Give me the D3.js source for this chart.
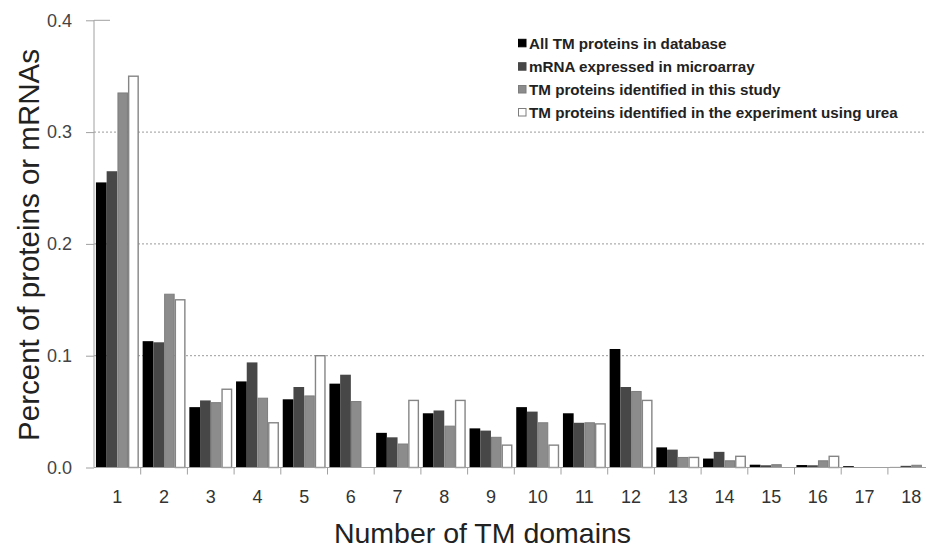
<!DOCTYPE html>
<html>
<head>
<meta charset="utf-8">
<script src="https://cdn.jsdelivr.net/npm/d3@7"></script>
<style>
  html, body { margin: 0; padding: 0; background: #fff; }
  svg { display: block; font-family: "Liberation Sans", Arial, sans-serif; }
</style>
</head>
<body>
<svg id="chart" width="926" height="549"></svg>
<script>
// Number of transmembrane domains per protein
const categories = ["1","2","3","4","5","6","7","8","9","10","11","12","13","14","15","16","17","18"];

// Fractions of proteins / mRNAs in each TM-domain class
const allTMDatabase = [0.255, 0.113, 0.054, 0.077, 0.061, 0.075, 0.031, 0.0485, 0.035, 0.054, 0.0485, 0.106, 0.018, 0.008, 0.0025, 0.0022, 0.0012, 0.0005];
const mRNAMicroarray = [0.265, 0.112, 0.060, 0.094, 0.072, 0.083, 0.027, 0.051, 0.033, 0.050, 0.040, 0.072, 0.016, 0.014, 0.002, 0.002, 0, 0.0015];
const tmThisStudy = [0.335, 0.155, 0.058, 0.062, 0.064, 0.059, 0.021, 0.037, 0.027, 0.040, 0.040, 0.068, 0.009, 0.006, 0.0025, 0.006, 0, 0.002];
const tmUreaExperiment = [0.350, 0.150, 0.070, 0.040, 0.100, 0, 0.060, 0.060, 0.020, 0.020, 0.039, 0.060, 0.009, 0.010, 0, 0.010, 0, 0];

const seriesNames = [
  "All TM proteins in database",
  "mRNA expressed in microarray",
  "TM proteins identified in this study",
  "TM proteins identified in the experiment using urea"
];
const yTicks = [0, 0.1, 0.2, 0.3, 0.4];

const seriesValues = [allTMDatabase, mRNAMicroarray, tmThisStudy, tmUreaExperiment];
const fills = ["#000000", "#474747", "#8c8c8c", "#ffffff"];
const strokes = [null, null, "#7d7d7d", "#858585"];

const svg = d3.select("#chart");
const W = 926, H = 549;
const plot = { left: 94, right: 934.6, top: 20.3, bottom: 467.5 };

const x = d3.scaleBand()
  .domain(categories)
  .range([plot.left, plot.right])
  .paddingInner(0.083)
  .paddingOuter(0.0415);

const x1 = d3.scaleBand()
  .domain(d3.range(seriesNames.length))
  .range([0, x.bandwidth()])
  .padding(0);

const y = d3.scaleLinear().domain([0, 0.4]).range([plot.bottom, plot.top]);

// Dotted horizontal gridlines
svg.append("g")
  .selectAll("line")
  .data(yTicks.filter(t => t > 0 && t < 0.4))
  .join("line")
  .attr("x1", plot.left)
  .attr("x2", W)
  .attr("y1", d => y(d))
  .attr("y2", d => y(d))
  .attr("stroke", "#9a9a9a")
  .attr("stroke-width", 1)
  .attr("stroke-dasharray", "2,2");

// Bars
const groups = svg.append("g")
  .selectAll("g")
  .data(categories)
  .join("g")
  .attr("transform", d => `translate(${x(d)},0)`);

groups.selectAll("rect")
  .data((c, i) => seriesValues.map((vals, s) => ({ s, v: vals[i] })).filter(d => d.v > 0))
  .join("rect")
  .attr("x", d => x1(d.s) + (strokes[d.s] ? 0.6 : 0))
  .attr("width", d => x1.bandwidth() - (strokes[d.s] ? 1.2 : 0))
  .attr("y", d => y(d.v))
  .attr("height", d => y(0) - y(d.v))
  .attr("fill", d => fills[d.s])
  .attr("stroke", d => strokes[d.s] || "none")
  .attr("stroke-width", d => d.s === 3 ? 1.4 : 1);

// Y axis
const yAxis = svg.append("g")
  .attr("transform", `translate(${plot.left},0)`)
  .call(d3.axisLeft(y).tickValues(yTicks).tickFormat(d3.format(".1f")).tickSize(8).tickPadding(14));
yAxis.select(".domain").attr("stroke", "#a0a0a0").attr("d", `M0,${plot.top}V${plot.bottom}`);
yAxis.selectAll(".tick line").attr("stroke", "#a0a0a0");
yAxis.selectAll(".tick text")
  .attr("font-size", 18)
  .attr("fill", "#444")
  .attr("font-family", "'Liberation Sans', Arial, sans-serif");
// short cap at the top of the value axis
svg.append("line")
  .attr("x1", plot.left).attr("x2", plot.left + 16)
  .attr("y1", y(0.4)).attr("y2", y(0.4))
  .attr("stroke", "#a0a0a0");

// X axis: labels under each category, ticks on the category boundaries
const xAxis = svg.append("g")
  .attr("transform", `translate(0,${plot.bottom})`)
  .call(d3.axisBottom(x).tickSize(0).tickPadding(23));
xAxis.select(".domain").attr("stroke", "#a0a0a0").attr("d", `M${plot.left},0H${W}`);
xAxis.selectAll(".tick text")
  .attr("font-size", 18)
  .attr("fill", "#333")
  .attr("font-family", "'Liberation Sans', Arial, sans-serif");

const halfGap = (x.step() - x.bandwidth()) / 2;
svg.append("g")
  .selectAll("line")
  .data(categories.slice(1))
  .join("line")
  .attr("x1", d => x(d) - halfGap)
  .attr("x2", d => x(d) - halfGap)
  .attr("y1", plot.bottom)
  .attr("y2", plot.bottom + 7)
  .attr("stroke", "#a0a0a0");

// Axis titles
svg.append("text")
  .attr("x", 482.5)
  .attr("y", 543)
  .attr("text-anchor", "middle")
  .attr("font-size", 28.5)
  .attr("fill", "#222")
  .text("Number of TM domains");

svg.append("text")
  .attr("transform", "translate(39,245) rotate(-90)")
  .attr("text-anchor", "middle")
  .attr("font-size", 29.5)
  .attr("fill", "#222")
  .text("Percent of proteins or mRNAs");

// Legend
const legend = svg.append("g").attr("transform", "translate(518,0)");
const rowY = [43.3, 66.7, 89.5, 112.5];
const items = legend.selectAll("g")
  .data(seriesNames)
  .join("g")
  .attr("transform", (d, i) => `translate(0,${rowY[i]})`);
items.append("rect")
  .attr("x", 0.5).attr("y", -4)
  .attr("width", 7.5).attr("height", 7.5)
  .attr("fill", (d, i) => fills[i])
  .attr("stroke", (d, i) => i === 0 ? "#000" : (i === 1 ? "#474747" : "#7d7d7d"))
  .attr("stroke-width", 1);
items.append("text")
  .attr("x", 11)
  .attr("y", 5.5)
  .attr("font-size", 15.2)
  .attr("font-weight", "bold")
  .attr("fill", "#222")
  .text(d => d);
</script>
</body>
</html>
